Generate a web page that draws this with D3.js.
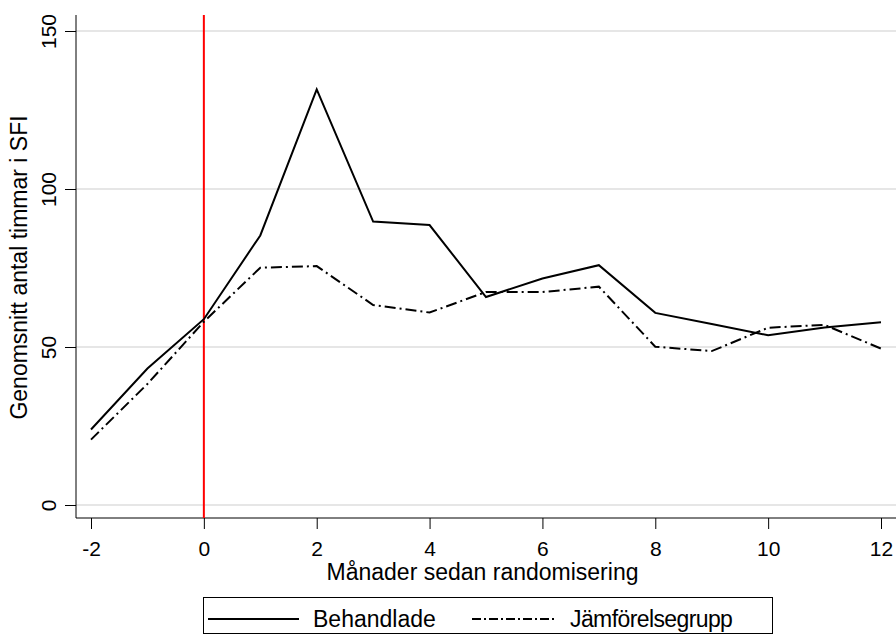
<!DOCTYPE html>
<html><head><meta charset="utf-8">
<script src="https://cdn.jsdelivr.net/npm/d3@7"></script>
<style>body{margin:0;background:#fff}svg{display:block;font-family:"Liberation Sans",Arial,sans-serif}</style>
</head><body><svg id="c" width="896" height="638"></svg>
<script>
const months = [-2,-1,0,1,2,3,4,5,6,7,8,9,10,11,12];
const behandlade = [23.9,43.2,58.8,85.3,131.5,89.7,88.6,65.8,71.7,75.9,60.8,57.3,53.7,56.2,57.8];
const jamforelse = [20.7,38.3,58.0,75.1,75.6,63.3,60.9,67.4,67.4,69.1,50.1,48.7,56.1,57.0,49.5];
const xTicks = [-2,0,2,4,6,8,10,12];
const yTicks = [0,50,100,150];
const seriesNames = ["Behandlade","Jämförelsegrupp"];

const svg = d3.select("#c");
const x = d3.scaleLinear().domain([-2,12]).range([91,881]);
const y = d3.scaleLinear().domain([0,150]).range([505,31]);
const axisX = 76, axisY = 518;

// gridlines
svg.append("g").selectAll("line").data(yTicks).join("line")
  .attr("x1",axisX).attr("x2",896).attr("y1",d=>y(d)).attr("y2",d=>y(d))
  .attr("stroke","#e6e6e6").attr("stroke-width",2);

// y axis
const gy = svg.append("g").attr("transform",`translate(${axisX},0)`)
  .call(d3.axisLeft(y).tickValues(yTicks).tickSize(11));
gy.select(".domain").attr("d",`M0,15V${axisY}`).attr("stroke","#000");
gy.selectAll(".tick line").attr("stroke","#000");
gy.selectAll(".tick text").attr("font-size",21).attr("fill","#000")
  .attr("x",null).attr("dy",null).attr("y",null)
  .attr("text-anchor","middle")
  .attr("transform","translate(-20,0) rotate(-90)");

// x axis
const gx = svg.append("g").attr("transform",`translate(0,${axisY})`)
  .call(d3.axisBottom(x).tickValues(xTicks).tickSize(11).tickFormat(d=>d<0?"-"+Math.abs(d):d));
gx.select(".domain").attr("d",`M${axisX},0H896`).attr("stroke","#000");
gx.selectAll(".tick line").attr("stroke","#000");
gx.selectAll(".tick text").attr("font-size",21).attr("fill","#000")
  .attr("y",38).attr("dy",null);

// titles
svg.append("text").attr("x",482.5).attr("y",580).attr("text-anchor","middle")
  .attr("font-size",23).text("Månader sedan randomisering");
svg.append("text").attr("transform","translate(27,267.5) rotate(-90)").attr("text-anchor","middle")
  .attr("font-size",23).text("Genomsnitt antal timmar i SFI");

// red vertical line
svg.append("line").attr("x1",x(0)).attr("x2",x(0)).attr("y1",15).attr("y2",axisY)
  .attr("stroke","#ff0000").attr("stroke-width",2);

const line = d3.line().x((d,i)=>x(months[i])).y(d=>y(d));
svg.append("path").datum(jamforelse).attr("d",line).attr("fill","none")
  .attr("stroke","#000").attr("stroke-width",2).attr("stroke-dasharray","11,4,2,4");
svg.append("path").datum(behandlade).attr("d",line).attr("fill","none")
  .attr("stroke","#000").attr("stroke-width",2);

// legend
const lg = svg.append("g");
lg.append("rect").attr("x",203.5).attr("y",597.5).attr("width",569).attr("height",36)
  .attr("fill","#fff").attr("stroke","#000").attr("stroke-width",1);
const ly = 619;
lg.append("line").attr("x1",208).attr("x2",299).attr("y1",ly).attr("y2",ly).attr("stroke","#000").attr("stroke-width",2);
lg.append("text").attr("x",313).attr("y",627).attr("font-size",23).text(seriesNames[0]);
lg.append("line").attr("x1",472).attr("x2",557).attr("y1",ly).attr("y2",ly).attr("stroke","#000").attr("stroke-width",2).attr("stroke-dasharray","9,3,2,3");
lg.append("text").attr("x",570).attr("y",627).attr("font-size",23).attr("letter-spacing","-0.6").text(seriesNames[1]);
</script></body></html>
